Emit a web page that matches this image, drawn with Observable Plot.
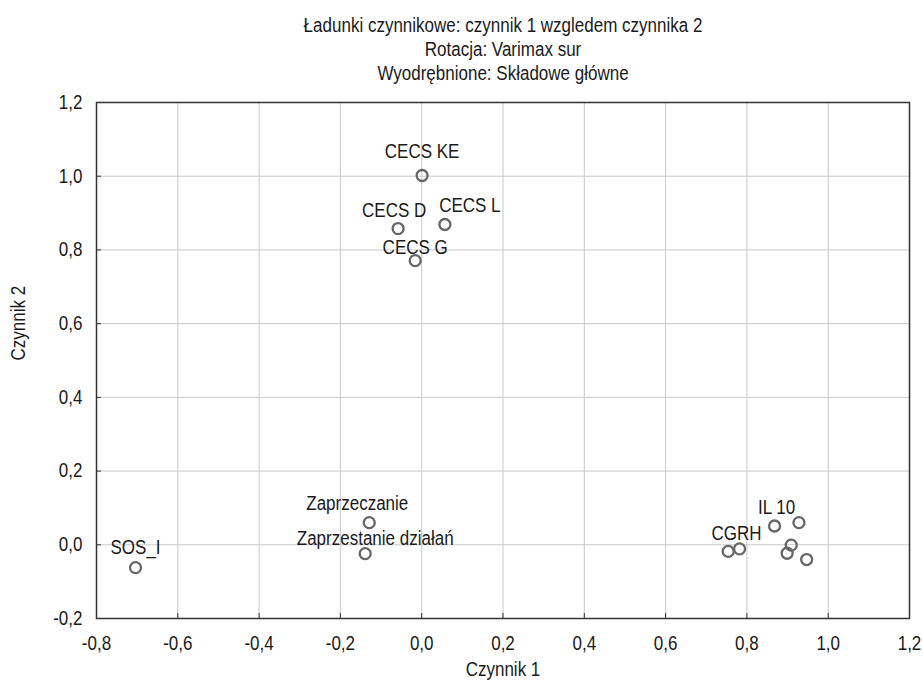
<!DOCTYPE html>
<html>
<head>
<meta charset="utf-8">
<script src="https://cdn.jsdelivr.net/npm/d3@7"></script>
<script src="https://cdn.jsdelivr.net/npm/@observablehq/plot@0.6"></script>
<style>
  html, body { margin: 0; padding: 0; background: #fff; }
  #chart svg { display: block; }
</style>
</head>
<body>
<div id="chart"></div>
<script>
const titleLines = [
  "Ładunki czynnikowe: czynnik 1 wzgledem czynnika 2",
  "Rotacja: Varimax sur",
  "Wyodrębnione: Składowe główne"
];
const xLabel = "Czynnik 1";
const yLabel = "Czynnik 2";
const xTicks = [-0.8, -0.6, -0.4, -0.2, 0.0, 0.2, 0.4, 0.6, 0.8, 1.0, 1.2];
const yTicks = [-0.2, 0.0, 0.2, 0.4, 0.6, 0.8, 1.0, 1.2];

const names = ["CECS KE", "CECS D", "CECS L", "CECS G", "Zaprzeczanie", "Zaprzestanie działań", "SOS_I",
               "", "CGRH", "IL 10", "", "", "", ""];
const factor1 = [0.001, -0.058, 0.057, -0.016, -0.129, -0.139, -0.704,
                 0.754, 0.782, 0.868, 0.928, 0.909, 0.899, 0.947];
const factor2 = [1.002, 0.858, 0.869, 0.771, 0.060, -0.024, -0.062,
                 -0.018, -0.011, 0.051, 0.060, -0.001, -0.023, -0.040];

const points = names.map((n, i) => ({name: n, x: factor1[i], y: factor2[i]}));

const fmt = v => v.toFixed(1).replace(".", ",");
const font = "'Liberation Sans', Arial, sans-serif";
const fs = 20;
const narrow = 0.85; // horizontal condensing of the glyphs, like the reference's narrow face
const ink = "#1a1a1a";

// label placement offsets (dx, dy) relative to each point
const labelPlacement = {
  "CECS KE": [0, -24],
  "CECS D": [-4, -18],
  "CECS L": [25, -19],
  "CECS G": [0, -13],
  "Zaprzeczanie": [-12, -19],
  "Zaprzestanie działań": [10, -15],
  "SOS_I": [0, -20],
  "IL 10": [2, -18],
  "CGRH": [-3, -15]
};

const labelMarks = Object.entries(labelPlacement).map(([name, [dx, dy]]) =>
  Plot.text(points.filter(d => d.name === name), {
    x: "x", y: "y", text: "name", dx, dy,
    fill: ink, fontSize: fs, textAnchor: "middle", lineAnchor: "middle"
  })
);

const titleMarks = titleLines.map((line, i) =>
  Plot.text([line], {frameAnchor: "top", dy: -77 + 24 * i, lineAnchor: "middle", fontSize: fs, fill: ink})
);

const chart = Plot.plot({
  width: 923,
  height: 687,
  marginLeft: 96,
  marginRight: 14,
  marginTop: 102,
  marginBottom: 69,
  style: {fontFamily: font, fontSize: fs + "px", background: "#fff", color: ink},
  x: {domain: [-0.8, 1.2], ticks: xTicks, tickFormat: fmt},
  y: {domain: [-0.2, 1.2], ticks: yTicks, tickFormat: fmt},
  marks: [
    Plot.gridX(xTicks, {stroke: "#c8c8c8", strokeOpacity: 1, strokeWidth: 1}),
    Plot.gridY(yTicks, {stroke: "#c8c8c8", strokeOpacity: 1, strokeWidth: 1}),
    Plot.axisX(xTicks, {tickSize: -5, tickPadding: 22, tickFormat: fmt, label: null, fontSize: fs, fill: ink, stroke: "#333"}),
    Plot.axisY(yTicks, {tickSize: -5, tickPadding: 19, tickFormat: fmt, label: null, fontSize: fs, fill: ink, stroke: "#333"}),
    Plot.frame({stroke: "#333", strokeWidth: 1.5}),
    Plot.dot(points, {x: "x", y: "y", r: 5.5, stroke: "#666", strokeWidth: 2.3, fill: "none"}),
    ...labelMarks,
    ...titleMarks,
    Plot.text([xLabel], {frameAnchor: "bottom", dy: 57, fontSize: fs, fill: ink}),
    Plot.text([yLabel], {frameAnchor: "left", dx: -78, rotate: -90, fontSize: fs, fill: ink})
  ]
});

document.getElementById("chart").appendChild(chart);

// condense glyphs horizontally (narrow typeface look), keeping real text
chart.querySelectorAll("text").forEach(t => {
  if (t.querySelector("tspan")) return;
  const len = t.getComputedTextLength();
  if (len > 0) {
    t.setAttribute("textLength", (len * narrow).toFixed(2));
    t.setAttribute("lengthAdjust", "spacingAndGlyphs");
  }
});
</script>
</body>
</html>
